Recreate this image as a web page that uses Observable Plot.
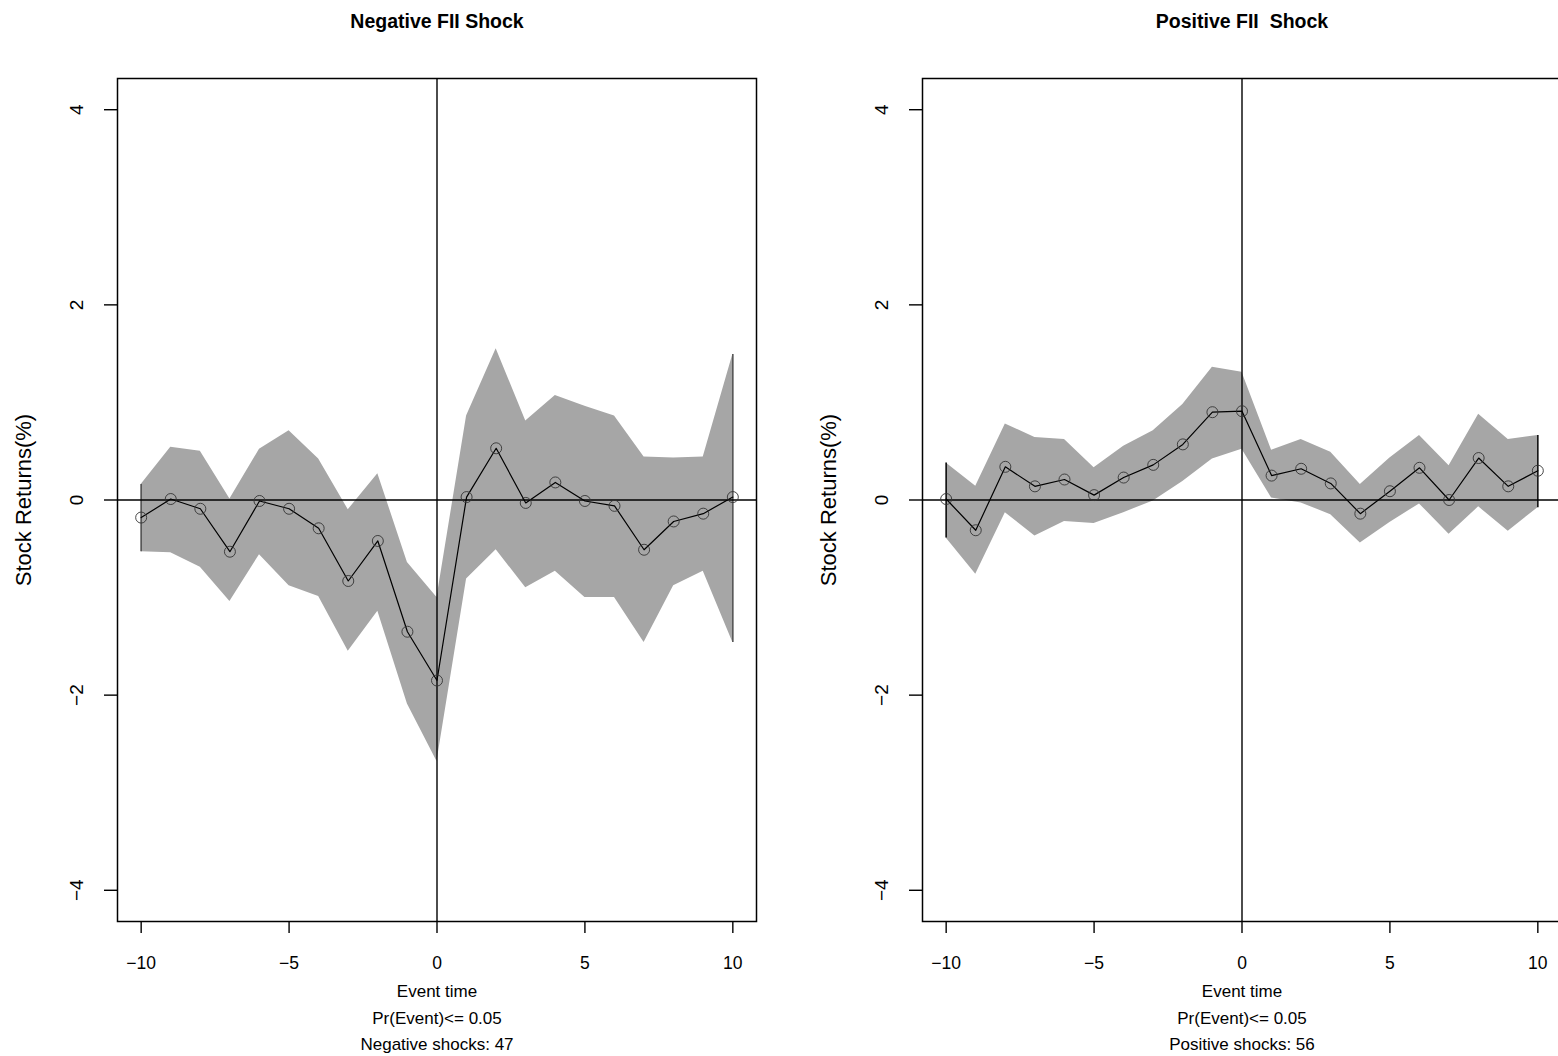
<!DOCTYPE html>
<html><head><meta charset="utf-8">
<script src="https://cdn.jsdelivr.net/npm/d3@7"></script>
<script src="https://cdn.jsdelivr.net/npm/@observablehq/plot@0.6"></script>
<style>
html,body{margin:0;padding:0;background:#fff;overflow:hidden;width:1558px;height:1056px}
#wrap{position:relative;width:1558px;height:1056px;overflow:hidden}
.panel{position:absolute;top:0}
</style></head><body><div id="wrap"></div>
<script>
const eventTime = [-10,-9,-8,-7,-6,-5,-4,-3,-2,-1,0,1,2,3,4,5,6,7,8,9,10];
const xTicks = [-10,-5,0,5,10];
const yTicks = [-4,-2,0,2,4];

const negMean  = [-0.18,0.01,-0.09,-0.53,-0.01,-0.09,-0.29,-0.83,-0.42,-1.35,-1.85,0.03,0.53,-0.03,0.18,-0.01,-0.06,-0.51,-0.22,-0.14,0.03];
const negUpper = [0.16,0.54,0.50,0.01,0.52,0.71,0.42,-0.10,0.27,-0.64,-1.00,0.86,1.55,0.81,1.07,0.96,0.86,0.44,0.43,0.44,1.49];
const negLower = [-0.53,-0.54,-0.69,-1.04,-0.56,-0.88,-0.99,-1.55,-1.14,-2.09,-2.68,-0.81,-0.51,-0.90,-0.73,-1.00,-1.00,-1.46,-0.88,-0.73,-1.46];

const posMean  = [0.01,-0.31,0.34,0.14,0.21,0.05,0.23,0.36,0.57,0.90,0.91,0.25,0.32,0.17,-0.14,0.09,0.33,0.00,0.43,0.14,0.30];
const posUpper = [0.38,0.14,0.78,0.64,0.62,0.33,0.55,0.71,0.98,1.36,1.31,0.51,0.62,0.49,0.16,0.43,0.66,0.35,0.88,0.62,0.66];
const posLower = [-0.39,-0.76,-0.13,-0.37,-0.22,-0.24,-0.13,-0.01,0.19,0.42,0.52,0.02,-0.03,-0.15,-0.44,-0.23,-0.04,-0.35,-0.07,-0.32,-0.08];

const titles = ["Negative FII Shock", "Positive FII\u00a0 Shock"];
const xLabels = [
  "Event time\nPr(Event)<= 0.05\nNegative shocks: 47",
  "Event time\nPr(Event)<= 0.05\nPositive shocks: 56"
];
const yLabel = "Stock Returns(%)";

const narrow = "'Liberation Sans Narrow','Arial Narrow','Liberation Sans',Arial,sans-serif";
const regular = "'Liberation Sans',Arial,Helvetica,sans-serif";

function panel({title, xlabel, mean, upper, lower, left, width, marginLeft, marginRight, endStroke}) {
  const data = eventTime.map((t, i) => ({t, m: mean[i], lo: lower[i], hi: upper[i]}));
  const ends = [data[0], data[data.length - 1]];
  const svg = Plot.plot({
    width, height: 1056,
    marginTop: 78, marginBottom: 135, marginLeft, marginRight,
    style: {fontFamily: narrow, fontSize: "17px", color: "#000", background: "transparent", overflow: "visible"},
    x: {domain: [-10.8, 10.8]},
    y: {domain: [-4.32, 4.32]},
    marks: [
      Plot.areaY(data, {x: "t", y1: "lo", y2: "hi", fill: "#a6a6a6", curve: "linear"}),
      Plot.ruleX(ends, {x: "t", y1: "lo", y2: "hi", stroke: endStroke, strokeWidth: 1.6}),
      Plot.ruleY([0], {stroke: "#000", strokeWidth: 1.4}),
      Plot.ruleX([0], {stroke: "#000", strokeWidth: 1.4}),
      Plot.lineY(data, {x: "t", y: "m", stroke: "#000", strokeWidth: 1.2}),
      Plot.dot(data, {x: "t", y: "m", r: 5.5, stroke: "#333", fill: "none", strokeWidth: 0.9}),
      Plot.frame({stroke: "#000", strokeWidth: 1.5}),
      Plot.axisX({ticks: xTicks, tickSize: 12, tickPadding: 23, label: null, strokeWidth: 1.4, fontSize: 17.5}),
      Plot.axisY({ticks: yTicks, tickSize: 13, tickPadding: 22, tickRotate: -90, label: null, strokeWidth: 1.4, fontSize: 19, fontFamily: regular}),
      Plot.text([yLabel], {frameAnchor: "left", dx: -94, rotate: -90, text: d => d, fontSize: 22, fontFamily: regular, lineAnchor: "middle", textAnchor: "middle"}),
      Plot.text([title], {frameAnchor: "top", dy: -64, text: d => d, fontWeight: "bold", fontSize: 19.5, fontFamily: narrow}),
      Plot.text([xlabel], {frameAnchor: "bottom", dy: 57, lineAnchor: "top", lineHeight: 1.56, text: d => d, fontSize: 17, fontFamily: narrow})
    ]
  });
  svg.classList.add("panel");
  svg.style.left = left + "px";
  document.getElementById("wrap").appendChild(svg);
}

panel({title: titles[0], xlabel: xLabels[0], mean: negMean, upper: negUpper, lower: negLower,
       left: 0, width: 779, marginLeft: 117, marginRight: 23, endStroke: "#555"});
panel({title: titles[1], xlabel: xLabels[1], mean: posMean, upper: posUpper, lower: posLower,
       left: 779, width: 806, marginLeft: 143, marginRight: 24, endStroke: "#111"});
</script></body></html>
